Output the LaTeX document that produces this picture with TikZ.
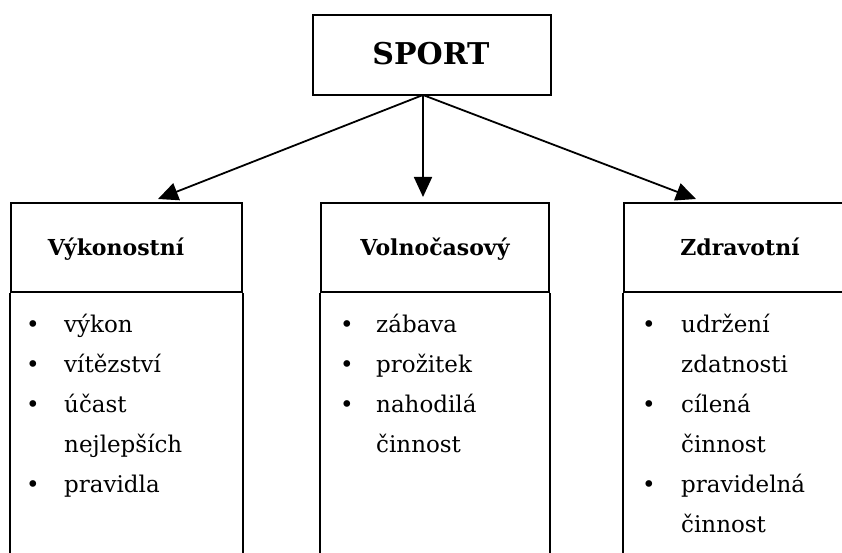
\documentclass[tikz,border=0pt]{standalone}
\usepackage{fontspec}
\setmainfont{DejaVu Serif}
\usetikzlibrary{arrows.meta}
\begin{document}
\begin{tikzpicture}[x=1pt,y=-1pt,
  lw/.style={line width=1.8pt},
  topbox/.style={draw, lw, minimum width=238pt, minimum height=80pt, inner sep=0pt, font=\bfseries\fontsize{30}{36}\selectfont},
  headbox/.style={draw, lw, minimum height=89pt, inner sep=0pt},
  headtxt/.style={anchor=base, inner sep=0pt, font=\bfseries\fontsize{22}{26}\selectfont},
  itemtxt/.style={anchor=base west, inner sep=0pt, font=\fontsize{23}{27}\selectfont},
  bul/.style={anchor=base, inner sep=0pt, font=\fontsize{23}{27}\selectfont},
  arr/.style={lw, -{Triangle[length=20pt,width=18pt]}}]
\useasboundingbox (0,0) rectangle (842,553);
\clip (0,0) rectangle (842,553);

% top node
\node[topbox] (sport) at (432,55) {};
\node[anchor=base, inner sep=0pt, font=\bfseries\fontsize{30}{36}\selectfont] (sporttxt) at (431,65) {SPORT};

% header boxes
\node[headbox, minimum width=231pt] (hl) at (126.5,247.5) {};
\node[headbox, minimum width=228pt] (hm) at (435,247.5) {};
\node[headbox, minimum width=231pt] (hr) at (739.5,247.5) {};

\node[headtxt] (tl) at (116,255) {Výkonostní};
\node[headtxt] (tm) at (435,255) {Volnočasový};
\node[headtxt] (tr) at (740,255) {Zdravotní};

% body sides (open at bottom)
\draw[lw] (hl.south west) -- ++(0,300);
\draw[lw] (hl.south east) -- ++(0,300);
\draw[lw] (hm.south west) -- ++(0,300);
\draw[lw] (hm.south east) -- ++(0,300);
\draw[lw] (hr.south west) -- ++(0,300);
\draw[lw] (hr.south east) -- ++(0,300);

% arrows
\coordinate (src) at (423,95);
\coordinate (tipL) at (158,199);
\coordinate (tipM) at (423,197);
\coordinate (tipR) at (696,199);
\draw[arr] (src) -- (tipL);
\draw[arr] (src) -- (tipM);
\draw[arr] (src) -- (tipR);

% left list
\node[bul] (lb1) at (33,332) {\textbullet};
\node[itemtxt] (l1) at (64,332) {výkon};
\node[bul] (lb2) at (33,372) {\textbullet};
\node[itemtxt] (l2) at (64,372) {vítězství};
\node[bul] (lb3) at (33,412) {\textbullet};
\node[itemtxt] (l3) at (64,412) {účast};
\node[itemtxt] (l4) at (64,452) {nejlepších};
\node[bul] (lb5) at (33,492) {\textbullet};
\node[itemtxt] (l5) at (64,492) {pravidla};

% middle list
\node[bul] (mb1) at (347,332) {\textbullet};
\node[itemtxt] (m1) at (376,332) {zábava};
\node[bul] (mb2) at (347,372) {\textbullet};
\node[itemtxt] (m2) at (376,372) {prožitek};
\node[bul] (mb3) at (347,412) {\textbullet};
\node[itemtxt] (m3) at (376,412) {nahodilá};
\node[itemtxt] (m4) at (376,452) {činnost};

% right list
\node[bul] (rb1) at (649,332) {\textbullet};
\node[itemtxt] (r1) at (681,332) {udržení};
\node[itemtxt] (r2) at (681,372) {zdatnosti};
\node[bul] (rb3) at (649,412) {\textbullet};
\node[itemtxt] (r3) at (681,412) {cílená};
\node[itemtxt] (r4) at (681,452) {činnost};
\node[bul] (rb5) at (649,492) {\textbullet};
\node[itemtxt] (r5) at (681,492) {pravidelná};
\node[itemtxt] (r6) at (681,532) {činnost};
\end{tikzpicture}
\end{document}
